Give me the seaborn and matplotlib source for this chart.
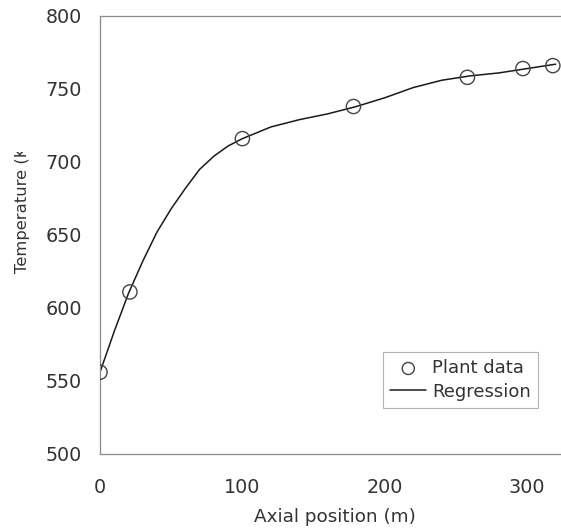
import matplotlib
matplotlib.use('Agg')
import matplotlib.pyplot as plt
import seaborn as sns
import pandas as pd
from matplotlib.transforms import Bbox, TransformedBbox

# ---- data ----
plant_x = [0, 21, 100, 178, 258, 297, 318]
plant_y = [556, 611, 716, 738, 758, 764, 766]
reg_x = [0, 10, 20, 30, 40, 50, 60, 70, 80, 90, 100, 120, 140, 160, 180,
         200, 220, 240, 260, 280, 300, 320]
reg_y = [556, 584, 610, 632, 652, 668, 682, 695, 704, 711, 716, 724, 729,
         733, 738, 744, 751, 756, 759, 761, 764, 767]
x_ticks = [0, 100, 200, 300]
y_ticks = [500, 550, 600, 650, 700, 750, 800]

sns.set_style('white')
plt.rcParams['font.family'] = ['DejaVu Sans']

W, H = 561, 532
fig = plt.figure(figsize=(W / 100, H / 100), dpi=100)
x_max = 330
ax = fig.add_axes([100 / W, (H - 454) / H, x_max * 1.424 / W, (454 - 16) / H])

plant = pd.DataFrame({'x': plant_x, 'y': plant_y})
reg = pd.DataFrame({'x': reg_x, 'y': reg_y})

sns.lineplot(data=reg, x='x', y='y', ax=ax, color='#1a1a1a', linewidth=1.1,
             sort=False, label='Regression')
sns.scatterplot(data=plant, x='x', y='y', ax=ax, marker='o', s=105,
                facecolor='none', edgecolor='#444444', linewidth=1.0,
                label='Plant data', zorder=3)

ax.set_xlim(0, x_max)
ax.set_ylim(500, 800)
ax.set_xticks(x_ticks)
ax.set_yticks(y_ticks)

for side in ['top', 'left', 'bottom']:
    ax.spines[side].set_color('#8a8a8a')
    ax.spines[side].set_linewidth(0.9)
ax.spines['right'].set_visible(False)

ax.tick_params(axis='both', direction='in', length=3, width=0.6,
               color='#aaaaaa', labelsize=13.8, labelcolor='#333333')
ax.tick_params(axis='y', pad=13)
ax.tick_params(axis='x', pad=17)

ax.set_xlabel('Axial position (m)', fontsize=13.2, color='#333333', labelpad=8)
ax.set_ylabel('Temperature (K)', fontsize=11.8, color='#333333')
ax.yaxis.set_label_coords(22 / W, (H - 273) / H, transform=fig.transFigure)
lab = ax.yaxis.label
lab.set_verticalalignment('center')
lab.set_horizontalalignment('left')
lab.set_rotation_mode('anchor')
lab.set_clip_box(TransformedBbox(Bbox.from_extents(0, 0, 60 / W, (H - 152) / H),
                                 fig.transFigure))
lab.set_clip_on(True)

h, l = ax.get_legend_handles_labels()
order = [l.index('Plant data'), l.index('Regression')]
leg = ax.legend([h[i] for i in order], [l[i] for i in order],
                loc='upper left', bbox_to_anchor=(383 / W, (H - 352) / H),
                bbox_transform=fig.transFigure, fontsize=13, frameon=True,
                fancybox=False, borderpad=0.4, labelspacing=0.3,
                handlelength=2.0, handletextpad=0.3, borderaxespad=0,
                markerscale=0.85)
leg.get_frame().set_edgecolor('#a0a0a0')
leg.get_frame().set_linewidth(0.8)
for t in leg.get_texts():
    t.set_color('#333333')

fig.savefig('out.png', dpi=100)
